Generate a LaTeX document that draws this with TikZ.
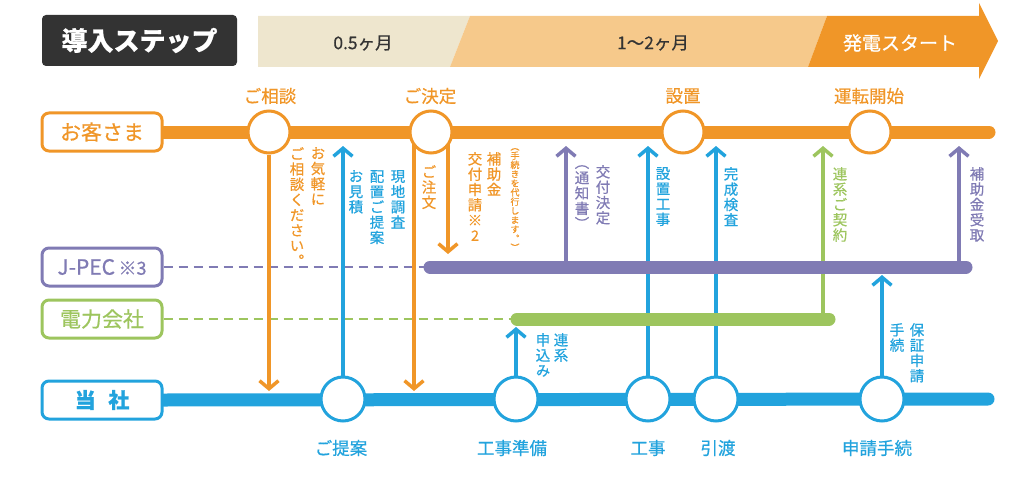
\documentclass[tikz,border=0pt]{standalone}
\usepackage{fontspec}
\setmainfont{Noto Sans CJK JP}[FakeBold=0.6]
\newfontfamily\tatefont{Noto Sans CJK JP}[RawFeature=+vert,FakeBold=0.6]
\usetikzlibrary{arrows.meta,positioning,backgrounds}
\definecolor{daidai}{RGB}{240,150,40}
\definecolor{usudaidai}{RGB}{246,201,139}
\definecolor{kinari}{RGB}{238,230,206}
\definecolor{murasaki}{RGB}{128,123,180}
\definecolor{wakaba}{RGB}{157,197,94}
\definecolor{sora}{RGB}{34,163,221}
\definecolor{sumi}{RGB}{51,51,51}
% vertical writing: one glyph per line
\def\tatenext#1{\ifx\relax#1\else\hbox to 1em{\hss#1\hss}\expandafter\tatenext\fi}
\newcommand\tate[1]{\vtop{\tatefont\tatenext#1\relax}}

\begin{document}
\begin{tikzpicture}[x=1pt,y=-1pt,
    rowbox/.style={draw,line width=3pt,rounded corners=7pt,fill=white,minimum width=120pt,minimum height=38pt,inner sep=0pt,font=\fontsize{21}{21}\selectfont},
    eki/.style={circle,draw,line width=3pt,fill=white,inner sep=0pt},
    rosen/.style={line width=13pt,line cap=round},
    hasen/.style={line width=2.5pt,dash pattern=on 9pt off 6pt},
    ya/.style={line width=3.5pt,-{Straight Barb[length=8pt,width=19pt,line width=3.5pt]}},
    tatebox/.style={inner sep=0pt,anchor=north,font=\fontsize{14.5}{15.3}\selectfont},
    midashi/.style={inner sep=1pt,font=\fontsize{17.5}{17.5}\selectfont}]
  \useasboundingbox (0,0) rectangle (1032,484);

  % header band
  \node[fill=sumi,rounded corners=4pt,minimum width=195pt,minimum height=51pt,text=white,font=\bfseries\fontsize{26}{26}\selectfont] (dounyu) at (139.5,40.5) {導入ステップ};
  \fill[kinari] (258,16) -- (470,16) -- (450,67) -- (258,67) -- cycle;
  \fill[usudaidai] (470,16) -- (827,16) -- (808,67) -- (450,67) -- cycle;
  \fill[daidai] (827,16) -- (979,16) -- (979,3) -- (998,41) -- (979,79) -- (979,67) -- (808,67) -- cycle;
  \node[text=sumi,font=\fontsize{17.5}{17.5}\selectfont] (hantsuki) at (363,43) {0.5ヶ月};
  \node[text=sumi,font=\fontsize{17.5}{17.5}\selectfont] (futatsuki) at (653,43) {1〜2ヶ月};
  \node[text=white,font=\fontsize{19}{19}\selectfont] (hatsuden) at (900,43) {発電スタート};

  % the four rows
  \node[rowbox,draw=daidai,text=daidai] (kyaku) at (102,132) {お客さま};
  \node[rowbox,draw=murasaki,text=murasaki] (jpec) at (102,267) {J-PEC\,{\fontsize{18}{18}\selectfont ※3}};
  \node[rowbox,draw=wakaba,text=wakaba] (denryoku) at (102,319) {電力会社};
  \node[rowbox,draw=sora,text=sora,font=\bfseries\fontsize{21}{21}\selectfont] (tousha) at (102,400) {当\hspace{0.6em}社};

  % stations
  \foreach \x/\n in {269/sodan,431/kettei,683/secchi,870/unten}
    \node[eki,draw=daidai,minimum size=42pt] (\n) at (\x,132) {};
  \foreach \x/\n in {343/teian,516/junbi,648/kouji,716/hikiwatashi,882/shinsei}
    \node[eki,draw=sora,minimum size=44pt] (\n) at (\x,399) {};

  \node[midashi,text=daidai] (sodanL) at (270,96) {ご相談};
  \node[midashi,text=daidai] (ketteiL) at (430,96) {ご決定};
  \node[midashi,text=daidai] (secchiL) at (683,96) {設置};
  \node[midashi,text=daidai] (untenL) at (869,96) {運転開始};
  \node[midashi,text=sora] (teianL) at (341,448) {ご提案};
  \node[midashi,text=sora] (junbiL) at (512,448) {工事準備};
  \node[midashi,text=sora] (koujiL) at (648,448) {工事};
  \node[midashi,text=sora] (hikiwatashiL) at (718,448) {引渡};
  \node[midashi,text=sora] (shinseiL) at (877,448) {申請手続};

  % vertical notes
  \node[tatebox,text=daidai] (kigaru) at (318,147) {\tate{お気軽に}};
  \node[tatebox,text=daidai] (kudasai) at (297,147) {\tate{ご相談ください。}};
  \node[tatebox,text=sora] (chousa) at (398,170) {\tate{現地調査}};
  \node[tatebox,text=sora] (haichi) at (377,170) {\tate{配置ご提案}};
  \node[tatebox,text=sora] (mitsumori) at (356,170) {\tate{お見積}};
  \node[tatebox,text=daidai] (chuumon) at (429,165) {\tate{ご注文}};
  \node[tatebox,text=daidai] (hojokin) at (494,152) {\tate{補助金}};
  \node[tatebox,text=daidai] (koufushinsei) at (475,152) {\tate{交付申請※2}};
  \node[tatebox,text=daidai,font=\fontsize{9}{9.2}\selectfont] (daikou) at (515,148) {\tate{（手続きを代行します。）}};
  \node[tatebox,text=murasaki] (koufukettei) at (603,165) {\tate{交付決定}};
  \node[tatebox,text=murasaki] (tsuuchi) at (582,165) {\tate{（通知書）}};
  \node[tatebox,text=sora] (secchikouji) at (663,167) {\tate{設置工事}};
  \node[tatebox,text=sora] (kensa) at (731,167) {\tate{完成検査}};
  \node[tatebox,text=wakaba] (keiyaku) at (840,167) {\tate{連系ご契約}};
  \node[tatebox,text=murasaki] (uketori) at (977,167) {\tate{補助金受取}};
  \node[tatebox,text=sora] (renkei) at (561,333) {\tate{連系}};
  \node[tatebox,text=sora] (moushikomi) at (543,333) {\tate{申込み}};
  \node[tatebox,text=sora] (hoshou) at (917,323) {\tate{保証申請}};
  \node[tatebox,text=sora] (tetsuzuki) at (897,323) {\tate{手続}};

  % arrow ends next to the lines
  \coordinate (kyakuShita) at (0,146);
  \coordinate (jpecUe) at (0,254);
  \coordinate (jpecShita) at (0,275);
  \coordinate (denryokuShita) at (0,327);
  \coordinate (toushaUe) at (0,391);
  \coordinate (koufuNe) at (566,267);
  \coordinate (keiyakuNe) at (823,319);
  \coordinate (uketoriNe) at (959,267);

  \begin{scope}[on background layer]
    \draw[hasen,murasaki] (jpec.east) -- (430,267);
    \draw[hasen,wakaba] (denryoku.east) -- (517,319);

    \draw[ya,daidai] (sodan.south) -- (sodan.south |- toushaUe);
    \draw[ya,sora] (teian.north) -- (teian.north |- kyakuShita);
    \draw[ya,daidai] ([xshift=-17pt]kettei.center) -- ([xshift=-17pt]kettei.center |- toushaUe);
    \draw[ya,daidai] ([xshift=17pt]kettei.center) -- ([xshift=17pt]kettei.center |- jpecUe);
    \draw[ya,sora] (junbi.north) -- (junbi.north |- denryokuShita);
    \draw[ya,murasaki] (koufuNe) -- (koufuNe |- kyakuShita);
    \draw[ya,sora] (kouji.north) -- (kouji.north |- kyakuShita);
    \draw[ya,sora] (hikiwatashi.north) -- (hikiwatashi.north |- kyakuShita);
    \draw[ya,wakaba] (keiyakuNe) -- (keiyakuNe |- kyakuShita);
    \draw[ya,sora] (shinsei.north) -- (shinsei.north |- jpecShita);
    \draw[ya,murasaki] (uketoriNe) -- (uketoriNe |- kyakuShita);

    \draw[rosen,daidai] (kyaku.east) -- (989,132);
    \draw[rosen,murasaki] (430,267) -- (966,267);
    \draw[rosen,wakaba] (517,319) -- (829,319);
    \draw[rosen,sora] (tousha.east) -- (988,399);
  \end{scope}
\end{tikzpicture}
\end{document}
